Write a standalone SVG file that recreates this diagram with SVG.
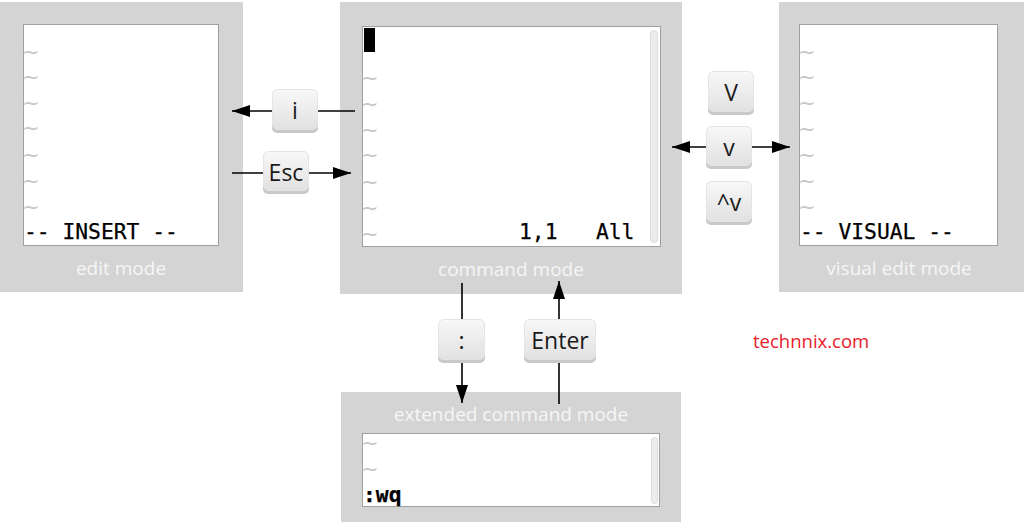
<svg xmlns="http://www.w3.org/2000/svg" width="1024" height="522" viewBox="0 0 1024 522">
<defs>
<linearGradient id="kg" x1="0" y1="0" x2="0" y2="1">
<stop offset="0" stop-color="#f8f8f8"/>
<stop offset="1" stop-color="#e1e1e1"/>
</linearGradient>
<marker id="ah" viewBox="0 0 18 12" refX="18" refY="6" markerWidth="18" markerHeight="12" markerUnits="userSpaceOnUse" orient="auto-start-reverse">
<path d="M0,0 L18,6 L0,12 Z" fill="#000"/>
</marker>
</defs>
<style>
.panel{fill:#d4d4d4}
.screen{fill:#fff;stroke:#a0a0a0;stroke-width:1}
.plabel{font-family:"Open Sans","Liberation Sans",sans-serif;font-size:19px;fill:#f6f6f6;text-anchor:middle}
.tl{font-family:"DejaVu Sans",sans-serif;font-size:21px;fill:#c8c8c8}
.mono{font-family:"DejaVu Sans Mono","Liberation Mono",monospace;font-size:21.3px;fill:#000;stroke:#000;stroke-width:0.25}
.scroll{fill:#ececec;stroke:#dcdcdc;stroke-width:1}
.keyshadow{fill:#c9c9c9}
.key{fill:url(#kg);stroke:#e4e4e4;stroke-width:1}
.klabel{font-family:"Open Sans","Liberation Sans",sans-serif;font-size:23px;fill:#1a1a1a;text-anchor:middle}
.conn{stroke:#000;stroke-width:1.6;fill:none}
</style>

<g id="edit-mode">
<rect class="panel" x="0" y="2" width="243" height="290"/>
<rect class="screen" x="23.5" y="24.5" width="195" height="221"/>
<g class="tl">
<text x="22" y="59">~</text><text x="22" y="84">~</text><text x="22" y="110">~</text><text x="22" y="135">~</text><text x="22" y="162">~</text><text x="22" y="188">~</text><text x="22" y="214">~</text>
</g>
<text class="mono" x="24" y="239" xml:space="preserve">-- INSERT --</text>
<text class="plabel" x="121" y="275">edit mode</text>
</g>

<g id="command-mode">
<rect class="panel" x="340" y="2" width="342" height="292"/>
<rect class="screen" x="362.5" y="26.5" width="298" height="220"/>
<rect class="scroll" x="650.5" y="30.5" width="7" height="212" rx="3.5"/>
<rect x="364" y="28" width="11" height="24" fill="#000"/>
<g class="tl">
<text x="361" y="85">~</text><text x="361" y="111">~</text><text x="361" y="137">~</text><text x="361" y="162">~</text><text x="361" y="189">~</text><text x="361" y="215">~</text><text x="361" y="241">~</text>
</g>
<text class="mono" x="519" y="239" xml:space="preserve">1,1   All</text>
<text class="plabel" x="511" y="276">command mode</text>
</g>

<g id="visual-mode">
<rect class="panel" x="779" y="2" width="245" height="290"/>
<rect class="screen" x="799.5" y="24.5" width="198" height="221"/>
<g class="tl">
<text x="798" y="59">~</text><text x="798" y="84">~</text><text x="798" y="110">~</text><text x="798" y="136">~</text><text x="798" y="162">~</text><text x="798" y="188">~</text><text x="798" y="214">~</text>
</g>
<text class="mono" x="800" y="239" xml:space="preserve">-- VISUAL --</text>
<text class="plabel" x="899" y="275">visual edit mode</text>
</g>

<g id="extended-mode">
<rect class="panel" x="341" y="392" width="340" height="130"/>
<text class="plabel" x="511" y="421">extended command mode</text>
<rect class="screen" x="362.5" y="433.5" width="297" height="73"/>
<rect class="scroll" x="651.5" y="437.5" width="6" height="66" rx="3"/>
<g class="tl">
<text x="361" y="450">~</text><text x="361" y="476">~</text>
</g>
<text class="mono" x="363" y="502" font-weight="bold" stroke-width="0">:wq</text>
</g>

<g id="connectors">
<line class="conn" x1="355" y1="111" x2="232" y2="111" marker-end="url(#ah)"/>
<line class="conn" x1="232" y1="173" x2="351" y2="173" marker-end="url(#ah)"/>
<line class="conn" x1="672" y1="147" x2="790" y2="147" marker-start="url(#ah)" marker-end="url(#ah)"/>
<line class="conn" x1="462" y1="283" x2="462" y2="403" marker-end="url(#ah)"/>
<line class="conn" x1="559" y1="404" x2="559" y2="281" marker-end="url(#ah)"/>
</g>

<g id="key-i">
<rect class="keyshadow" x="272" y="91" width="46" height="42" rx="5"/>
<rect class="key" x="272.5" y="89.5" width="45" height="40" rx="5"/>
<text class="klabel" x="295" y="119">i</text>
</g>
<g id="key-esc">
<rect class="keyshadow" x="263" y="153" width="46" height="41" rx="5"/>
<rect class="key" x="263.5" y="151.5" width="45" height="39" rx="5"/>
<text class="klabel" x="286" y="181">Esc</text>
</g>
<g id="key-V">
<rect class="keyshadow" x="708" y="73" width="46" height="42" rx="5"/>
<rect class="key" x="708.5" y="71.5" width="45" height="40" rx="5"/>
<text class="klabel" x="731" y="101">V</text>
</g>
<g id="key-v">
<rect class="keyshadow" x="706" y="128" width="46" height="41" rx="5"/>
<rect class="key" x="706.5" y="126.5" width="45" height="39" rx="5"/>
<text class="klabel" x="729" y="156">v</text>
</g>
<g id="key-ctrl-v">
<rect class="keyshadow" x="706" y="183" width="46" height="42" rx="5"/>
<rect class="key" x="706.5" y="181.5" width="45" height="40" rx="5"/>
<text class="klabel" x="729" y="211">^v</text>
</g>
<g id="key-colon">
<rect class="keyshadow" x="438" y="321" width="47" height="42" rx="5"/>
<rect class="key" x="438.5" y="319.5" width="46" height="40" rx="5"/>
<text class="klabel" x="461.5" y="349">:</text>
</g>
<g id="key-enter">
<rect class="keyshadow" x="524" y="321" width="72" height="42" rx="5"/>
<rect class="key" x="524.5" y="319.5" width="71" height="40" rx="5"/>
<text class="klabel" x="560" y="349">Enter</text>
</g>

<text x="753" y="348" font-family="Open Sans, Liberation Sans, sans-serif" font-size="18.5" fill="#e8202a">technnix.com</text>
</svg>
